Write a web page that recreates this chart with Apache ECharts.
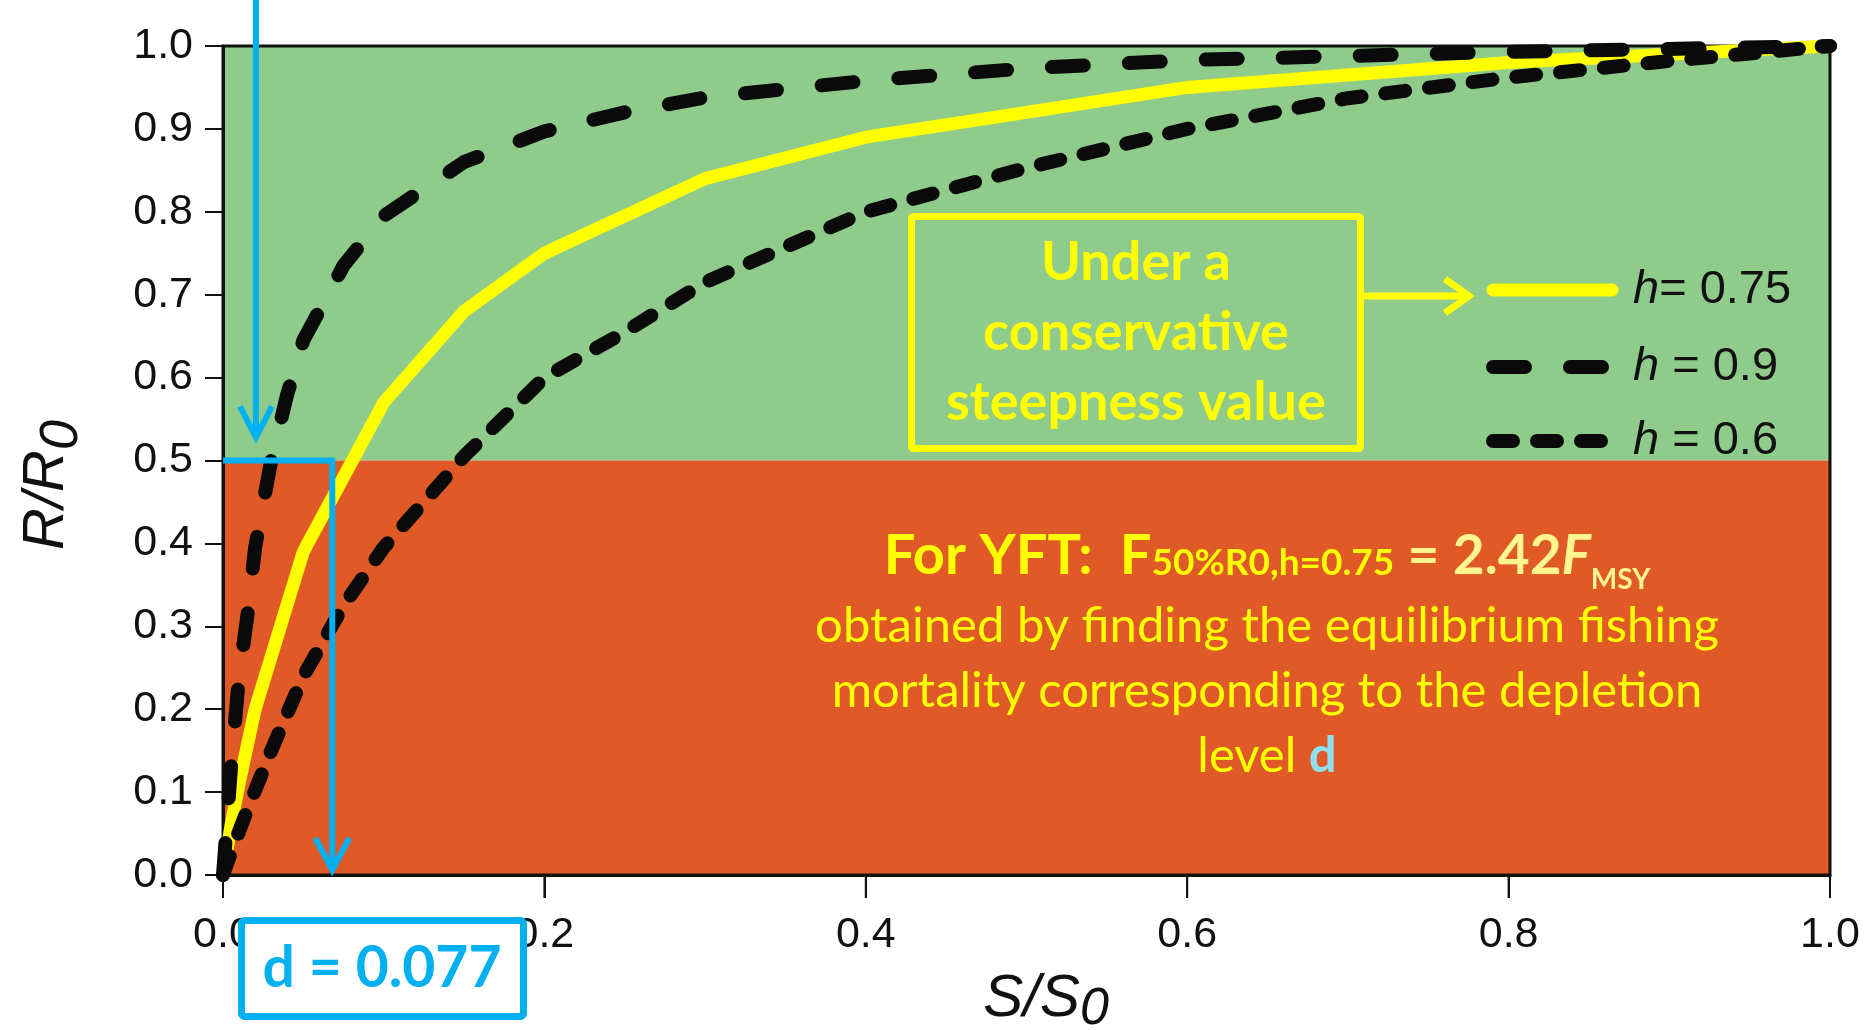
<!DOCTYPE html>
<html>
<head>
<meta charset="utf-8">
<title>Steepness curves</title>
<script src="https://cdn.jsdelivr.net/npm/echarts@6/dist/echarts.min.js"></script>
<style>
  html, body { margin: 0; padding: 0; background: #ffffff; }
  #chart { width: 1872px; height: 1030px; }
</style>
</head>
<body>
<div id="chart"></div>
<script>
// values (S/S0 -> R/R0)
var s075 = [0, 0.005, 0.01, 0.02, 0.05, 0.1, 0.15, 0.2, 0.3, 0.4, 0.5, 0.6, 0.7, 0.8, 0.9, 1.0];
var r075 = [0, 0.06, 0.11, 0.2, 0.39, 0.57, 0.68, 0.75, 0.84, 0.89, 0.92, 0.95, 0.965, 0.98, 0.99, 1.0];

var s09 = [0, 0.005, 0.01, 0.015, 0.02, 0.03, 0.04, 0.05, 0.075, 0.1, 0.15, 0.2, 0.25, 0.3, 0.4, 0.5, 0.6, 0.8, 1.0];
var r09 = [0, 0.13, 0.24, 0.31, 0.395, 0.5, 0.58, 0.645, 0.735, 0.795, 0.86, 0.897, 0.92, 0.938, 0.958, 0.973, 0.983, 0.993, 1.0];

var s06 = [0, 0.005, 0.015, 0.03, 0.05, 0.075, 0.1, 0.15, 0.2, 0.25, 0.3, 0.4, 0.5, 0.6, 0.7, 0.8, 0.9, 1.0];
var r06 = [0, 0.027, 0.078, 0.15, 0.24, 0.325, 0.395, 0.505, 0.6, 0.655, 0.715, 0.8, 0.853, 0.9, 0.937, 0.962, 0.982, 1.0];

var seriesNames = ['h= 0.75', 'h = 0.9', 'h = 0.6'];
var xTickValues = [0, 0.2, 0.4, 0.6, 0.8, 1.0];

// zones and annotation positions (in data units)
var zoneSplit = 0.5;
var dArrowS = 0.068;      // where the d arrow is drawn
var dArrowTipR = 0.006;
var topArrowS = 0.0205;
var topArrowTipR = 0.528;
var topArrowStartR = 1.06;

var GREEN = '#8fcb8b';
var ORANGE = '#e05a27';
var BLUE = '#00b0f0';
var YELLOW = '#ffff00';
var PALE = '#fff68f';
var INK = '#0a0a0a';

var lineStyles = [
  { color: YELLOW, width: 13, cap: 'round', join: 'round' },
  { color: INK, width: 14, type: [32, 45], cap: 'round', join: 'round' },
  { color: INK, width: 14, type: [20, 24], cap: 'round', join: 'round' }
];

function pairs(xs, ys) {
  return xs.map(function (x, i) { return [x, ys[i]]; });
}

var chart = echarts.init(document.getElementById('chart'), null, { renderer: 'canvas' });

var option = {
  animation: false,
  backgroundColor: '#ffffff',
  grid: {
    left: 223, right: 42, top: 46, bottom: 155,
    show: true, borderColor: '#111', borderWidth: 3,
    backgroundColor: 'transparent', z: 3
  },
  xAxis: {
    type: 'value', min: 0, max: 1, interval: 0.2, z: 3,
    axisLine: { show: true, onZero: false, lineStyle: { color: '#111', width: 3 } },
    axisTick: { show: true, inside: false, length: 23, lineStyle: { color: '#111', width: 2 } },
    splitLine: { show: false },
    axisLabel: {
      margin: 39, color: '#111', fontSize: 43, fontFamily: 'Liberation Sans',
      formatter: function (v) { return v.toFixed(1); }
    }
  },
  yAxis: {
    type: 'value', min: 0, max: 1, interval: 0.1, z: 3,
    axisLine: { show: true, lineStyle: { color: '#111', width: 3 } },
    axisTick: { show: true, length: 18, lineStyle: { color: '#111', width: 2 } },
    splitLine: { show: false },
    axisLabel: {
      margin: 30, color: '#111', fontSize: 43, fontFamily: 'Liberation Sans',
      formatter: function (v) { return v.toFixed(1); }
    }
  },
  series: [
    {
      name: 'zones', type: 'line', data: [], z: 1, silent: true,
      markArea: {
        silent: true,
        data: [
          [{ yAxis: zoneSplit, itemStyle: { color: GREEN } }, { yAxis: 1 }],
          [{ yAxis: 0, itemStyle: { color: ORANGE } }, { yAxis: zoneSplit }]
        ]
      }
    },
    {
      name: seriesNames[0], type: 'line', data: pairs(s075, r075), z: 4,
      symbol: 'none', smooth: false, clip: false, color: YELLOW,
      lineStyle: lineStyles[0]
    },
    {
      name: seriesNames[1], type: 'line', data: pairs(s09, r09), z: 5,
      symbol: 'none', smooth: false, clip: false, color: INK,
      lineStyle: lineStyles[1]
    },
    {
      name: seriesNames[2], type: 'line', data: pairs(s06, r06), z: 5,
      symbol: 'none', smooth: false, clip: false, color: INK,
      lineStyle: lineStyles[2]
    }
  ]
};

chart.setOption(option);

function px(s, r) { return chart.convertToPixel({ gridIndex: 0 }, [s, r]); }

function chevron(from, tip, color, width, back, side) {
  var dx = tip[0] - from[0], dy = tip[1] - from[1];
  var len = Math.sqrt(dx * dx + dy * dy);
  var ux = dx / len, uy = dy / len;
  return {
    type: 'polyline', z: 120,
    shape: { points: [
      [tip[0] - ux * back - uy * side, tip[1] - uy * back + ux * side],
      tip,
      [tip[0] - ux * back + uy * side, tip[1] - uy * back - ux * side]
    ] },
    style: { stroke: color, lineWidth: width, fill: null, lineJoin: 'miter', lineCap: 'butt' }
  };
}

var corner0 = px(0, zoneSplit);
var corner1 = px(dArrowS, zoneSplit);
var dTip = px(dArrowS, dArrowTipR);
var topStart = px(topArrowS, topArrowStartR);
var topTip = px(topArrowS, topArrowTipR);

var yArrowFrom = [1364, 296];
var yArrowTip = [1469, 296];

// S axis ticks, placed through the axis scale
var xTicks = xTickValues.map(function (v) {
  var p = px(v, 0);
  return {
    type: 'line', z: 50,
    shape: { x1: p[0], y1: p[1], x2: p[0], y2: p[1] + 23 },
    style: { stroke: '#111', lineWidth: 2 }
  };
});

// hand-drawn legend, styled from the series line styles
var legendX = 1493, legendW = 119, legendTextX = 1633;
var legendY = [290, 367, 441];
var legendItems = [];
seriesNames.forEach(function (name, i) {
  var ls = lineStyles[i];
  legendItems.push({
    type: 'line', z: 110,
    shape: { x1: legendX, y1: legendY[i], x2: legendX + legendW, y2: legendY[i] },
    style: { stroke: ls.color, lineWidth: ls.width, lineCap: 'round', lineDash: ls.type || null }
  });
  legendItems.push({
    type: 'text', z: 111, x: legendTextX, y: legendY[i],
    style: {
      text: '{i|h}{t|' + name.slice(1) + '}', align: 'left', verticalAlign: 'middle',
      rich: {
        i: { fill: '#111', font: 'italic 47px Liberation Sans' },
        t: { fill: '#111', font: '47px Liberation Sans' }
      }
    }
  });
});

var graphics = [
  // d path: across at R/R0 = 0.5 then down to the S axis
  {
    type: 'polyline', z: 110,
    shape: { points: [corner0, corner1, dTip] },
    style: { stroke: BLUE, lineWidth: 6, fill: null, lineJoin: 'miter' }
  },
  chevron(corner1, dTip, BLUE, 6, 32, 17),
  {
    type: 'line', z: 110,
    shape: { x1: topStart[0], y1: topStart[1], x2: topTip[0], y2: topTip[1] },
    style: { stroke: BLUE, lineWidth: 6 }
  },
  chevron(topStart, topTip, BLUE, 6, 31, 16),

  // steepness box
  {
    type: 'rect', z: 110,
    shape: { x: 911.5, y: 216.5, width: 449, height: 232, r: 2 },
    style: { stroke: YELLOW, lineWidth: 7, fill: null }
  },
  {
    type: 'text', z: 111, x: 1136, y: 333,
    style: {
      text: 'Under a\nconservative\nsteepness value',
      fill: YELLOW, font: 'bold 54px Lato', lineHeight: 70,
      align: 'center', verticalAlign: 'middle'
    }
  },
  {
    type: 'line', z: 110,
    shape: { x1: yArrowFrom[0], y1: yArrowFrom[1], x2: yArrowTip[0], y2: yArrowTip[1] },
    style: { stroke: YELLOW, lineWidth: 7 }
  },
  chevron(yArrowFrom, yArrowTip, YELLOW, 7, 24, 17),

  // YFT formula line
  {
    type: 'text', z: 111, x: 1267, y: 598,
    style: {
      text: '{a|For YFT:  F}{b|50%R0,h=0.75}{c| = 2.42}{d|F}{e|MSY}',
      align: 'center', verticalAlign: 'bottom',
      rich: {
        a: { fill: YELLOW, font: 'bold 56px Lato', verticalAlign: 'bottom', padding: [0, 0, 14, 0] },
        b: { fill: YELLOW, font: 'bold 37px Lato', verticalAlign: 'bottom', padding: [0, 0, 16, 0] },
        c: { fill: PALE, font: 'bold 55px Lato', verticalAlign: 'bottom', padding: [0, 0, 14, 0] },
        d: { fill: PALE, font: 'italic bold 55px Lato', verticalAlign: 'bottom', padding: [0, 0, 14, 0] },
        e: { fill: PALE, font: 'bold 28px Lato', verticalAlign: 'bottom', padding: [0, 0, 4, 0] }
      }
    }
  },
  {
    type: 'text', z: 111, x: 1267, y: 691,
    style: {
      text: 'obtained by finding the equilibrium fishing\nmortality corresponding to the depletion\nlevel {dd|d}',
      fill: YELLOW, font: '49px Lato', lineHeight: 65,
      align: 'center', verticalAlign: 'middle',
      rich: {
        dd: { fill: '#8fe0ee', font: 'bold 49px Lato', lineHeight: 65 }
      }
    }
  },

  // d value box
  {
    type: 'rect', z: 110,
    shape: { x: 241.5, y: 920.5, width: 282, height: 96, r: 3 },
    style: { stroke: BLUE, lineWidth: 7, fill: '#ffffff' }
  },
  {
    type: 'text', z: 111, x: 382, y: 969,
    style: {
      text: 'd = 0.077', fill: BLUE, font: 'bold 57px Lato',
      align: 'center', verticalAlign: 'middle'
    }
  },

  // axis titles
  {
    type: 'text', z: 111, x: 1046, y: 1036,
    style: {
      text: '{a|S/S}{b|0}', align: 'center', verticalAlign: 'bottom',
      rich: {
        a: { fill: '#111', font: 'italic 60px Liberation Sans', verticalAlign: 'bottom', padding: [0, 0, 7, 0] },
        b: { fill: '#111', font: 'italic 52px Liberation Sans', verticalAlign: 'bottom' }
      }
    }
  },
  {
    type: 'text', z: 111, x: 89, y: 485, rotation: Math.PI / 2,
    style: {
      text: '{a|R/R}{b|0}', align: 'center', verticalAlign: 'bottom',
      rich: {
        a: { fill: '#111', font: 'italic 58px Liberation Sans', verticalAlign: 'bottom', padding: [0, 0, 13, 0] },
        b: { fill: '#111', font: 'italic 54px Liberation Sans', verticalAlign: 'bottom' }
      }
    }
  }
].concat(xTicks, legendItems);

chart.setOption({ graphic: graphics });
</script>
</body>
</html>
